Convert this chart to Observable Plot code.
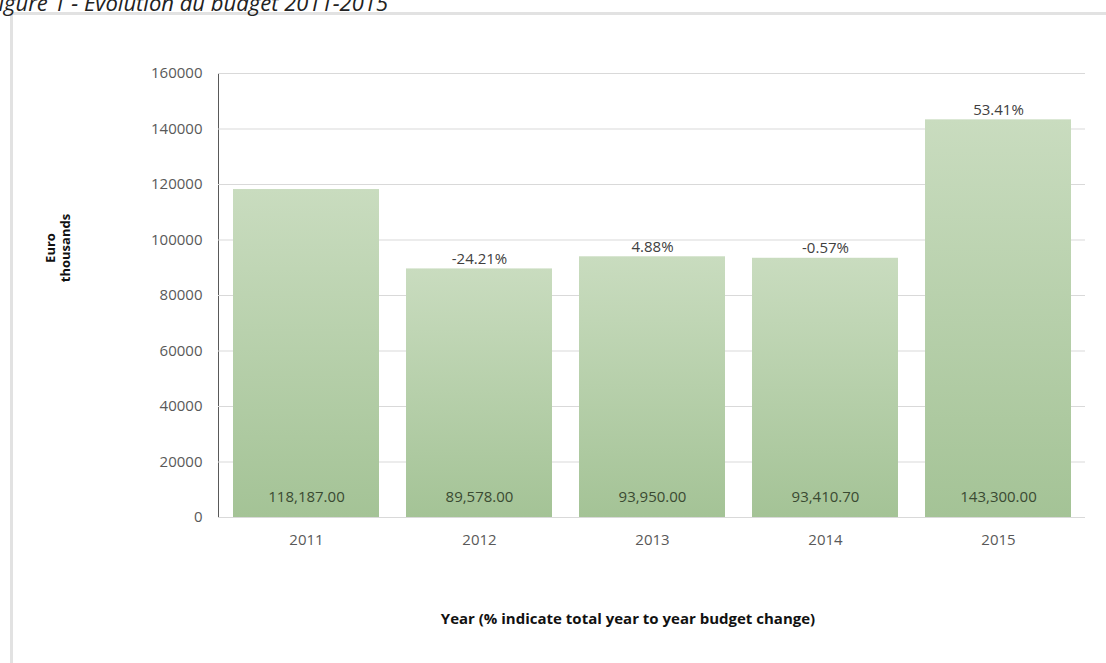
<!DOCTYPE html>
<html>
<head>
<meta charset="utf-8">
<script src="https://cdn.jsdelivr.net/npm/d3@7"></script>
<script src="https://cdn.jsdelivr.net/npm/@observablehq/plot@0.6"></script>
<style>
  html, body { margin: 0; padding: 0; background: #fff; overflow: hidden; }
  body { position: relative; width: 1106px; height: 663px; font-family: "Open Sans", sans-serif; }
  #frame { position: absolute; left: 10px; top: 12px; width: 1200px; height: 1000px;
           border-left: 3px solid #e2e2e2; border-top: 3px solid #e2e2e2; }
  #title { position: absolute; left: -12px; top: -11px; font-style: italic; font-size: 22px;
           color: #222; white-space: nowrap; line-height: 26px; }
  #chart { position: absolute; left: 0; top: 0; }
  #ylab { position: absolute; left: 58px; top: 248px; transform: translate(-50%, -50%) rotate(-90deg);
          text-align: center; font-weight: bold; font-size: 13px; line-height: 15px; color: #111; white-space: nowrap; }
  #xlab { position: absolute; left: 628px; top: 618px; transform: translate(-50%, -50%);
          font-weight: bold; font-size: 15px; color: #111; white-space: nowrap; }
</style>
</head>
<body>
<div id="frame"></div>
<div id="chart"></div>
<div id="title">Figure 1 - Evolution du budget 2011-2015</div>
<div id="ylab">Euro<br>thousands</div>
<div id="xlab">Year (% indicate total year to year budget change)</div>
<script>
const years = ["2011", "2012", "2013", "2014", "2015"];
const budget = [118187.00, 89578.00, 93950.00, 93410.70, 143300.00];
const change = [null, -24.21, 4.88, -0.57, 53.41];
const yTicks = [0, 20000, 40000, 60000, 80000, 100000, 120000, 140000, 160000];

const data = years.map((year, i) => ({year, budget: budget[i], change: change[i]}));
const fmt = d3.format(",.2f");

const svg = Plot.plot({
  width: 1106,
  height: 663,
  marginTop: 73,
  marginBottom: 146,
  marginLeft: 218,
  marginRight: 21,
  style: {background: "transparent", fontFamily: "'Open Sans', sans-serif", fontSize: "15px", color: "#595959"},
  x: {domain: years, paddingInner: 0.157, paddingOuter: 0.078, label: null, tickSize: 0, tickPadding: 17},
  y: {domain: [0, 160000], ticks: yTicks, tickFormat: d => String(d), label: null, tickSize: 0, tickPadding: 16, line: true},
  marks: [
    Plot.ruleY(yTicks, {stroke: "#d9d9d9", strokeWidth: 1}),
    Plot.barY(data, {x: "year", y: "budget", fill: "url(#barGrad)"}),
    Plot.text(data, {x: "year", y: 0, text: d => fmt(d.budget), dy: -20, fill: "#3a4a32", fontSize: 15}),
    Plot.text(data.filter(d => d.change != null), {x: "year", y: "budget", text: d => d.change.toFixed(2) + "%", dy: -10, fill: "#404040", fontSize: 15})
  ]
});

d3.select(svg).insert("defs", ":first-child").html(
  '<linearGradient id="barGrad" x1="0" y1="0" x2="0" y2="1">' +
  '<stop offset="0" stop-color="#c9dcbf"/>' +
  '<stop offset="1" stop-color="#a4c396"/>' +
  '</linearGradient>'
);
d3.select(svg).selectAll("[aria-label='y-axis'] path, [aria-label='y-axis'] line").attr("stroke", "#d0d0d0");

document.getElementById("chart").appendChild(svg);
</script>
</body>
</html>
